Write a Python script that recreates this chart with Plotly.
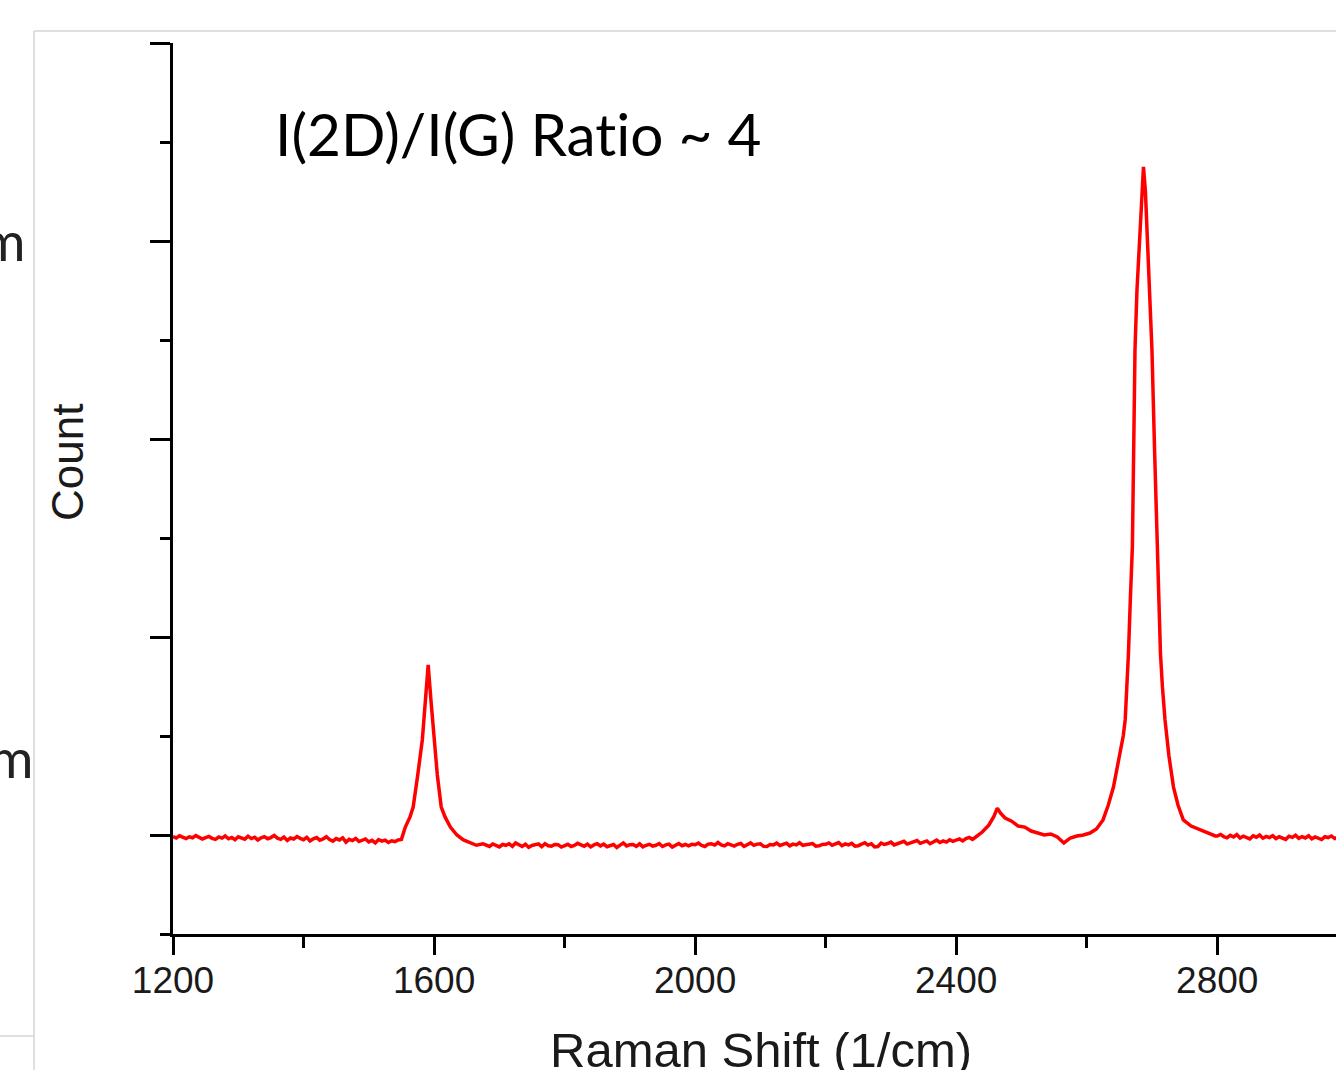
import plotly.graph_objects as go

# Raman shift (1/cm) and counts, in segments
shift_low = [
    1200, 1205, 1210, 1215, 1220, 1225, 1230, 1235, 1240, 1245,
    1250, 1255, 1260, 1265, 1270, 1275, 1280, 1285, 1290, 1295,
    1300, 1305, 1310, 1315, 1320, 1325, 1330, 1335, 1340, 1345,
    1350, 1355, 1360, 1365, 1370, 1375, 1380, 1385, 1390, 1395,
    1400, 1405, 1410, 1415, 1420, 1425, 1430, 1435, 1440, 1445,
    1450, 1455, 1460, 1465, 1470, 1475, 1480, 1485, 1490, 1495,
    1500, 1505, 1510, 1515, 1520, 1525, 1530, 1535, 1540, 1545,
]
count_low = [
    -8, -15, -4, -12, -18, -9, -14, -3, -11, -20,
    -13, -7, -17, -22, -10, -16, -5, -19, -12, -24,
    -9, -15, -21, -6, -18, -11, -25, -14, -8, -19,
    -13, -2, -16, -22, -10, -27, -15, -20, -8, -17,
    -24, -12, -30, -19, -13, -26, -20, -9, -23, -31,
    -18, -25, -14, -36, -22, -28, -17, -33, -24, -20,
    -35, -27, -40, -23, -31, -26, -38, -29, -33, -25,
]

shift_g = [1550, 1556, 1563, 1568, 1575, 1582, 1587, 1591, 1595, 1600,
           1605, 1611, 1617, 1625, 1635, 1645, 1655, 1665, 1675, 1685]
count_g = [-22, 40, 90, 141, 303, 480, 690, 859, 690, 480,
           303, 141, 90, 40, 0, -25, -40, -52, -45, -58]

shift_mid = [
    1690, 1695, 1700, 1705, 1710, 1715, 1720, 1725, 1730, 1735,
    1740, 1745, 1750, 1755, 1760, 1765, 1770, 1775, 1780, 1785,
    1790, 1795, 1800, 1805, 1810, 1815, 1820, 1825, 1830, 1835,
    1840, 1845, 1850, 1855, 1860, 1865, 1870, 1875, 1880, 1885,
    1890, 1895, 1900, 1905, 1910, 1915, 1920, 1925, 1930, 1935,
    1940, 1945, 1950, 1955, 1960, 1965, 1970, 1975, 1980, 1985,
    1990, 1995, 2000, 2005, 2010, 2015, 2020, 2025, 2030, 2035,
    2040, 2045, 2050, 2055, 2060, 2065, 2070, 2075, 2080, 2085,
    2090, 2095, 2100, 2105, 2110, 2115, 2120, 2125, 2130, 2135,
    2140, 2145, 2150, 2155, 2160, 2165, 2170, 2175, 2180, 2185,
    2190, 2195, 2200, 2205, 2210, 2215, 2220, 2225, 2230, 2235,
    2240, 2245, 2250, 2255, 2260, 2265, 2270, 2275, 2280, 2285,
    2290, 2295, 2300, 2305, 2310, 2315, 2320, 2325, 2330, 2335,
    2340, 2345, 2350, 2355, 2360, 2365, 2370, 2375, 2380, 2385,
    2390, 2395, 2400, 2405, 2410, 2415, 2420, 2425, 2430, 2435,
]
count_mid = [
    -45, -55, -60, -48, -52, -44, -57, -40, -51, -58,
    -47, -62, -53, -50, -45, -59, -44, -54, -56, -48,
    -49, -61, -52, -47, -58, -53, -42, -50, -57, -46,
    -60, -50, -44, -55, -46, -59, -52, -48, -63, -51,
    -40, -55, -49, -48, -58, -45, -60, -52, -47, -56,
    -52, -43, -58, -50, -46, -61, -50, -43, -54, -48,
    -55, -47, -49, -41, -53, -58, -46, -44, -51, -38,
    -50, -55, -44, -52, -56, -47, -43, -58, -49, -40,
    -52, -46, -45, -57, -58, -48, -50, -41, -53, -47,
    -41, -55, -46, -50, -39, -52, -50, -44, -43, -56,
    -55, -48, -47, -40, -52, -45, -38, -54, -45, -50,
    -42, -56, -54, -46, -39, -51, -44, -60, -58, -41,
    -48, -43, -36, -50, -45, -38, -32, -46, -40, -34,
    -28, -42, -36, -30, -44, -33, -26, -38, -30, -36,
    -24, -32, -28, -20, -30, -18, -12, -22, -10, 0,
]

shift_2d = [
    2440, 2450, 2458, 2463, 2468, 2475, 2485, 2495, 2505, 2515,
    2525, 2535, 2545, 2555, 2565, 2575, 2585, 2595, 2605, 2615,
    2625, 2633, 2641, 2650, 2656, 2659, 2662, 2664, 2667, 2670,
    2672, 2674, 2677, 2680, 2684, 2687, 2690, 2694, 2697, 2700,
    2704, 2708, 2711, 2713, 2716, 2720, 2726, 2733, 2740, 2748,
    2760, 2774, 2785, 2797,
]
count_2d = [
    15, 50, 95, 136, 110, 86, 70, 45, 40, 20,
    10, 0, 5, -10, -40, -15, -5, 0, 10, 30,
    76, 150, 242, 400, 500, 581, 750, 919, 1200, 1455,
    1944, 2449, 2750, 2955, 3250, 3374, 3250, 2955, 2700, 2449,
    1944, 1455, 1150, 919, 750, 581, 400, 242, 150, 76,
    45, 25, 10, -5,
]

shift_high = [
    2800, 2805, 2810, 2815, 2820, 2825, 2830, 2835, 2840, 2845,
    2850, 2855, 2860, 2865, 2870, 2875, 2880, 2885, 2890, 2895,
    2900, 2905, 2910, 2915, 2920, 2925, 2930, 2935, 2940, 2945,
    2950, 2955, 2960, 2965, 2970, 2975, 2980, 2985, 2990,
]
count_high = [
    -5, 3, -8, -14, -2, -10, 2, -15, -6, -12,
    -20, -4, -11, 0, -16, -7, -13, -3, -18, -9,
    -14, -22, -6, -12, -1, -17, -8, -15, -4, -19,
    -10, -16, -23, -9, -13, -5, -18, -11, -14,
]

shift = shift_low + shift_g + shift_mid + shift_2d + shift_high
count = count_low + count_g + count_mid + count_2d + count_high

x_ticks = [1200, 1600, 2000, 2400, 2800]
x_tick_labels = ["1200", "1600", "2000", "2400", "2800"]

title_text = "I(2D)/I(G) Rat\u200cio ~ 4"
x_title = "Raman Shift (1/cm)"
y_title = "Count"

W, H = 1336, 1070
L, T, B = 173, 43, 136
PW, PH = W - L, H - T - B


def px(xp):
    return (xp - L) / PW


def py(yp):
    return (H - B - yp) / PH


fig = go.Figure()
fig.add_trace(go.Scatter(
    x=shift, y=count, mode="lines",
    line=dict(color="#ff0000", width=3.5),
    hoverinfo="skip", showlegend=False,
))

tick_font = dict(family="Liberation Sans, Arial, sans-serif", size=37, color="#1a1a1a")

fig.update_xaxes(
    range=[1200, 2982],
    tickvals=x_ticks, ticktext=x_tick_labels,
    ticks="outside", ticklen=18, tickwidth=3, tickcolor="black",
    minor=dict(dtick=200, tick0=1200, ticks="outside", ticklen=11, tickwidth=3, tickcolor="black"),
    showline=True, linewidth=3, linecolor="black",
    showgrid=False, zeroline=False,
    tickfont=tick_font, ticklabelstandoff=-6,
)
fig.update_yaxes(
    range=[-500, 4000],
    tick0=0, dtick=1000,
    ticks="outside", ticklen=20, tickwidth=3, tickcolor="black",
    minor=dict(dtick=500, tick0=-500, ticks="outside", ticklen=10, tickwidth=3, tickcolor="black"),
    showline=True, linewidth=3, linecolor="black",
    showgrid=False, zeroline=False, showticklabels=False,
)

frame = dict(color="#d4d4d4", width=1.5)
shapes = [
    dict(type="line", xref="paper", yref="paper", x0=px(34), x1=px(1400), y0=py(31), y1=py(31), line=frame),
    dict(type="line", xref="paper", yref="paper", x0=px(34), x1=px(34), y0=py(31), y1=py(1100), line=frame),
    dict(type="line", xref="paper", yref="paper", x0=px(-10), x1=px(34), y0=py(1036), y1=py(1036), line=frame),
]

annotations = [
    dict(text=title_text, xref="paper", yref="paper", x=px(273), y=py(133),
         xanchor="left", yanchor="middle", showarrow=False,
         font=dict(family="Lato, Carlito, sans-serif", size=58.5, color="#000000")),
    dict(text=y_title, xref="paper", yref="paper", x=px(68), y=py(463),
         xanchor="center", yanchor="middle", textangle=-90, showarrow=False,
         font=dict(family="Liberation Sans, Arial, sans-serif", size=44, color="#1a1a1a")),
    dict(text=x_title, xref="paper", yref="paper", x=px(761), y=py(1050),
         xanchor="center", yanchor="middle", showarrow=False,
         font=dict(family="Liberation Sans, Arial, sans-serif", size=49, color="#1a1a1a")),
    dict(text="m", xref="paper", yref="paper", x=px(27), y=py(240),
         xanchor="right", yanchor="middle", showarrow=False,
         font=dict(family="Lato, sans-serif", size=54, color="#222222")),
    dict(text="m", xref="paper", yref="paper", x=px(35), y=py(757),
         xanchor="right", yanchor="middle", showarrow=False,
         font=dict(family="Lato, sans-serif", size=54, color="#222222")),
]

fig.update_layout(
    width=W, height=H,
    margin=dict(l=L, r=0, t=T, b=B, pad=0),
    paper_bgcolor="white", plot_bgcolor="white",
    shapes=shapes, annotations=annotations,
    showlegend=False,
)

fig.write_html(
    "out.html",
    config={"displayModeBar": False},
    post_script="document.body.style.margin='0px';document.body.style.overflow='hidden';",
)
